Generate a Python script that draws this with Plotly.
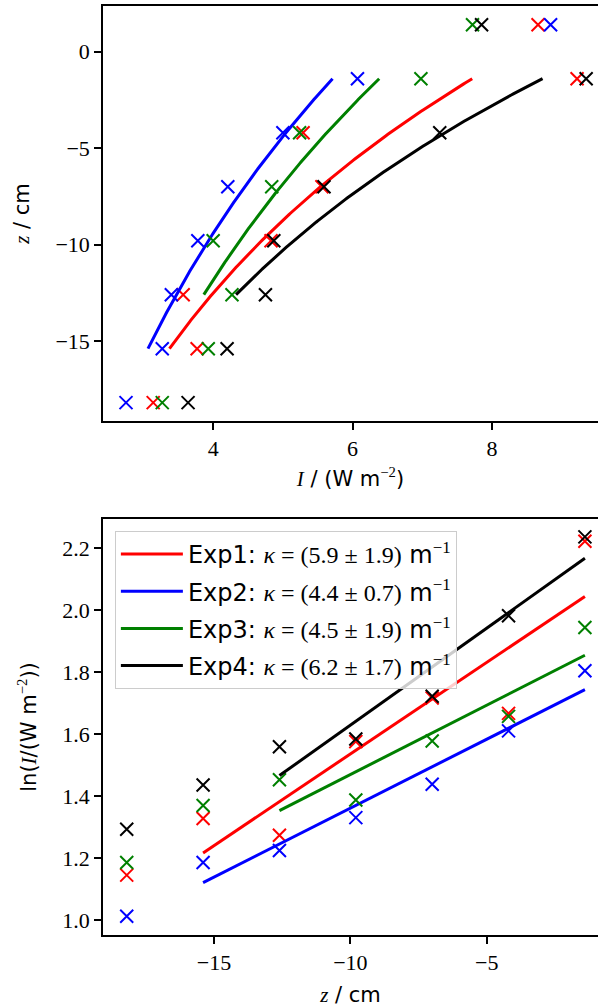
import numpy as np
import plotly.graph_objects as go

# ---- data ----
z_cm = [1.4, -1.4, -4.2, -7.0, -9.8, -12.6, -15.4, -18.2]
I_exp1 = [8.66, 9.22, 5.29, 5.56, 4.83, 3.57, 3.77, 3.14]
I_exp2 = [8.84, 6.07, 5.00, 4.21, 3.78, 3.40, 3.27, 2.75]
I_exp3 = [7.72, 6.98, 5.24, 4.84, 4.00, 4.27, 3.93, 3.27]
I_exp4 = [7.85, 9.35, 7.25, 5.59, 4.87, 4.75, 4.20, 3.64]
names = ["Exp1", "Exp2", "Exp3", "Exp4"]
colors = ["#ff0000", "#0000ff", "#008000", "#000000"]
kappa = [5.9, 4.4, 4.5, 6.2]
kappa_err = [1.9, 0.7, 1.9, 1.7]
fit_z_low = [-15.4, -15.4, -12.6, -12.6]
fit_z_high = -1.4
log_z_max = -1.4  # points used in the log plot
x_ticks_top = [4, 6, 8]
y_ticks_top = [0, -5, -10, -15]
x_ticks_bot = [-15, -10, -5]
y_ticks_bot = [1.0, 1.2, 1.4, 1.6, 1.8, 2.0, 2.2]

series = [I_exp1, I_exp2, I_exp3, I_exp4]

SERIF = "Liberation Serif"
SANS = "DejaVu Sans"
TICKFONT = dict(family=SERIF, size=22, color="black")
TITLEFONT = dict(family=SANS, size=21, color="black")

fig = go.Figure()
zarr = np.array(z_cm)

for i, I in enumerate(series):
    I = np.array(I)
    c = colors[i]
    m = (zarr >= fit_z_low[i] - 1e-9) & (zarr <= fit_z_high + 1e-9)
    b, a = np.polyfit(zarr[m], np.log(I[m]), 1)
    zz = np.linspace(fit_z_low[i], fit_z_high, 200)
    fig.add_trace(go.Scatter(x=I, y=zarr, mode="markers", xaxis="x", yaxis="y",
                             marker=dict(symbol="x-thin", size=13, line=dict(width=2, color=c), color=c),
                             showlegend=False, hoverinfo="skip"))
    fig.add_trace(go.Scatter(x=np.exp(a + b * zz), y=zz, mode="lines", xaxis="x", yaxis="y",
                             line=dict(color=c, width=3), showlegend=False, hoverinfo="skip"))

for i, I in enumerate(series):
    I = np.array(I)
    c = colors[i]
    m = (zarr >= fit_z_low[i] - 1e-9) & (zarr <= fit_z_high + 1e-9)
    b, a = np.polyfit(zarr[m], np.log(I[m]), 1)
    zz = np.linspace(fit_z_low[i], fit_z_high, 200)
    ml = zarr <= log_z_max + 1e-9
    fig.add_trace(go.Scatter(x=zarr[ml], y=np.log(I[ml]), mode="markers", xaxis="x2", yaxis="y2",
                             marker=dict(symbol="x-thin", size=13, line=dict(width=2, color=c), color=c),
                             showlegend=False, hoverinfo="skip"))
    label = (f'{names[i]}: <span style="font-family:{SERIF}"><i>κ</i> = ({kappa[i]:.1f} ± {kappa_err[i]:.1f})</span>'
             f' m<sup><span style="font-family:{SERIF}">−1</span></sup>')
    fig.add_trace(go.Scatter(x=zz, y=a + b * zz, mode="lines", xaxis="x2", yaxis="y2",
                             line=dict(color=c, width=3), name=label, legendgroup=names[i],
                             hoverinfo="skip"))

axis_common = dict(showline=True, linecolor="black", linewidth=1.5, mirror=True,
                   ticks="outside", ticklen=7, tickwidth=1.5, tickcolor="black",
                   showgrid=False, zeroline=False, tickfont=TICKFONT, automargin=False)

fig.update_layout(
    width=598, height=1007,
    margin=dict(l=103, r=0, t=6, b=72, autoexpand=False),
    plot_bgcolor="white", paper_bgcolor="white",
    xaxis=dict(domain=[0, 1], anchor="y", range=[2.42, 9.52], tickvals=x_ticks_top,
               title=dict(text=f'<span style="font-family:{SERIF}"><i>I</i></span> / (W m<sup><span style="font-family:{SERIF}">−2</span></sup>)',
                          font=TITLEFONT, standoff=11), **axis_common),
    yaxis=dict(domain=[0.5533, 1], anchor="x", range=[-19.15, 2.37], tickvals=y_ticks_top,
               title=dict(text=f'<span style="font-family:{SERIF}"><i>z</i></span> / cm', font=TITLEFONT, standoff=20),
               **axis_common),
    xaxis2=dict(domain=[0, 1], anchor="y2", range=[-19.07, -0.92], tickvals=x_ticks_bot,
                title=dict(text=f'<span style="font-family:{SERIF}"><i>z</i></span> / cm', font=TITLEFONT, standoff=13),
                **axis_common),
    yaxis2=dict(domain=[0, 0.4478], anchor="x2", range=[0.951, 2.293], tickvals=y_ticks_bot,
                tickformat=".1f",
                title=dict(text=f'ln(<span style="font-family:{SERIF}"><i>I</i></span>/(W m<sup><span style="font-family:{SERIF}">−2</span></sup>))',
                           font=TITLEFONT, standoff=20),
                **axis_common),
    legend=dict(x=0.024, y=0.435, xanchor="left", yanchor="top",
                bgcolor="rgba(255,255,255,0.8)", bordercolor="#cccccc", borderwidth=1,
                font=dict(family=SANS, size=24, color="black"),
                itemwidth=62,
                traceorder="grouped", tracegroupgap=3),
    showlegend=True,
)

fig.write_html("out.html", config={"displayModeBar": False},
               post_script="document.body.style.margin='0px';")
